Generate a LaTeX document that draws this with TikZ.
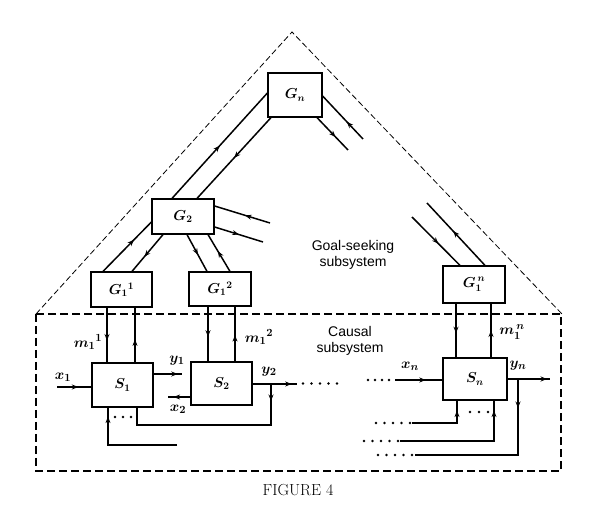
\documentclass[tikz,border=0pt]{standalone}
\usepackage{fontspec}
\newfontfamily\sansf{Liberation Sans}
\usetikzlibrary{arrows.meta,decorations.markings,calc}
\begin{document}
\begin{tikzpicture}[x=1pt,y=-1pt,
  box/.style={draw, line width=1.2pt, inner sep=0pt, font=\fontsize{14.5}{16}\selectfont\boldmath},
  conn/.style={line width=1.5pt, line join=miter},
  marr/.style={postaction={decorate}, decoration={markings, mark=at position #1 with {\arrow{Stealth[length=6.5pt,width=5pt]}}}},
  lbl/.style={inner sep=0pt, font=\fontsize{15}{17}\selectfont\boldmath},
  sanslbl/.style={inner sep=0pt, align=center, font=\sansf\fontsize{14}{16.5}\selectfont},
]
\useasboundingbox (0,0) rectangle (600,526);

% outline
\draw[line width=0.8pt, dash pattern=on 6pt off 3pt] (36,314) -- (292,32) -- (562,314);
\draw[line width=1.1pt, dash pattern=on 8pt off 4pt] (36,314) rectangle (561,471);

% boxes
\node[box, minimum width=54pt, minimum height=44pt] (Gn) at (295,95) {$G_n$};
\node[box, minimum width=62pt, minimum height=35pt] (G2) at (183,216.5) {$G_2$};
\node[box, minimum width=61pt, minimum height=35pt] (G11) at (121.5,289.5) {$G_1{}^1$};
\node[box, minimum width=62pt, minimum height=34pt] (G12) at (220,289) {$G_1{}^2$};
\node[box, minimum width=62pt, minimum height=37pt] (G1n) at (474,284.5) {$G_1^{\,n}$};
\node[box, minimum width=61pt, minimum height=44pt] (S1) at (122.5,385) {$S_1$};
\node[box, minimum width=61pt, minimum height=43pt] (S2) at (221.5,383.5) {$S_2$};
\node[box, minimum width=64pt, minimum height=42pt] (Sn) at (475,379) {$S_n$};

% goal-level connectors
\draw[conn, marr=0.64] (103,0 |- G11.north) -- (G2.west |- 0,222);
\draw[conn, marr=0.6] (163,0 |- G2.south) -- (132,0 |- G11.north);
\draw[conn, marr=0.55] (187,0 |- G2.south) -- (207,0 |- G12.north);
\draw[conn, marr=0.55] (230,0 |- G12.north) -- (208,0 |- G2.south);
\coordinate (e1) at (270,223);
\coordinate (f1) at (263,242);
\draw[conn, marr=0.45] (e1) -- (G2.east |- 0,206);
\draw[conn, marr=0.5] (G2.east |- 0,227) -- (f1);
\draw[conn, marr=0.5] (172,0 |- G2.north) -- (Gn.west |- 0,93);
\draw[conn, marr=0.5] (271,0 |- Gn.south) -- (197,0 |- G2.north);
\coordinate (i1) at (363,139);
\coordinate (j1) at (348,150);
\draw[conn, marr=0.4] (i1) -- (Gn.east |- 0,96);
\draw[conn, marr=0.6] (317,0 |- Gn.south) -- (j1);
\coordinate (k1) at (412,217);
\coordinate (l1) at (427,203);
\draw[conn, marr=0.55] (k1) -- (460,0 |- G1n.north);
\draw[conn, marr=0.55] (485,0 |- G1n.north) -- (l1);

% G -> S links
\draw[conn, marr=0.6] (107,0 |- G11.south) -- (107,0 |- S1.north);
\draw[conn, marr=0.42] (135,0 |- S1.north) -- (135,0 |- G11.south);
\draw[conn, marr=0.55] (208,0 |- G12.south) -- (208,0 |- S2.north);
\draw[conn, marr=0.48] (235,0 |- S2.north) -- (235,0 |- G12.south);
\draw[conn, marr=0.55] (456,0 |- G1n.south) -- (456,0 |- Sn.north);
\draw[conn, marr=0.5] (491,0 |- Sn.north) -- (491,0 |- G1n.south);
\node[lbl] (m11) at (88,342) {$m_1{}^1$};
\node[lbl] (m12) at (259,337) {$m_1{}^2$};
\node[lbl] (m1n) at (512,332) {$m_1^{\,n}$};

% S1, S2 signals
\coordinate (x1s) at (57,387);
\draw[conn, marr=0.62] (x1s) -- (x1s -| S1.west);
\node[lbl] (x1) at (63,377) {$x_1$};
\coordinate (y1e) at (182,374);
\draw[conn, marr=0.85] (S1.east |- y1e) -- (y1e);
\node[lbl] (y1) at (177,361) {$y_1$};
\coordinate (x2e) at (168,397);
\draw[conn, marr=0.75] (S2.west |- x2e) -- (x2e);
\node[lbl] (x2) at (178,409) {$x_2$};
\coordinate (y2e) at (297,384);
\draw[conn, marr=0.88] (S2.east |- y2e) -- (y2e);
\node[lbl] (y2) at (269,372) {$y_2$};
\coordinate (b2) at (271,384);
\draw[conn, marr=17pt] (b2) -- (271,425) -- (137,425) -- (137,0 |- S1.south);
\coordinate (s1in) at (177,445);
\draw[conn, marr=-9pt] (s1in) -- (108,445) -- (108,0 |- S1.south);
\foreach \x in {115,123,131} \fill (\x,417) circle (1.4pt);

% dots between
\foreach \x in {303,311.5,320,328.5,337} \fill (\x,383.5) circle (1.4pt);
\foreach \x in {368,375,382,389} \fill (\x,380) circle (1.4pt);

% Sn signals
\coordinate (xns) at (395,380);
\draw[conn, marr=0.65] (xns) -- (xns -| Sn.west);
\node[lbl] (xn) at (410,366) {$x_n$};
\coordinate (yne) at (550,379);
\draw[conn, marr=0.93] (Sn.east |- yne) -- (yne);
\node[lbl] (yn) at (518,366) {$y_n$};
\coordinate (bn) at (518,379);
\draw[conn, marr=29pt] (bn) -- (518,455) -- (415,455);
\coordinate (sn1) at (412,423);
\draw[conn, marr=-10pt] (sn1) -- (457,423) -- (457,0 |- Sn.south);
\coordinate (sn2) at (400,441);
\draw[conn, marr=-10pt] (sn2) -- (494,441) -- (494,0 |- Sn.south);
\foreach \x in {470,479,488} \fill (\x,412) circle (1.4pt);
\foreach \x in {376,384.5,393,401.5,410} \fill (\x,423) circle (1.4pt);
\foreach \x in {364,372.5,381,389.5,398} \fill (\x,441) circle (1.4pt);
\foreach \x in {378,386.5,395,403.5,412} \fill (\x,455) circle (1.4pt);

% texts
\node[sanslbl] (goal) at (353,255) {Goal-seeking\\subsystem};
\node[sanslbl] (causal) at (350,341) {Causal\\subsystem};
\node[inner sep=0pt, font=\fontsize{16}{18}\selectfont] (fig) at (298,490) {FIGURE 4};
\end{tikzpicture}
\end{document}
